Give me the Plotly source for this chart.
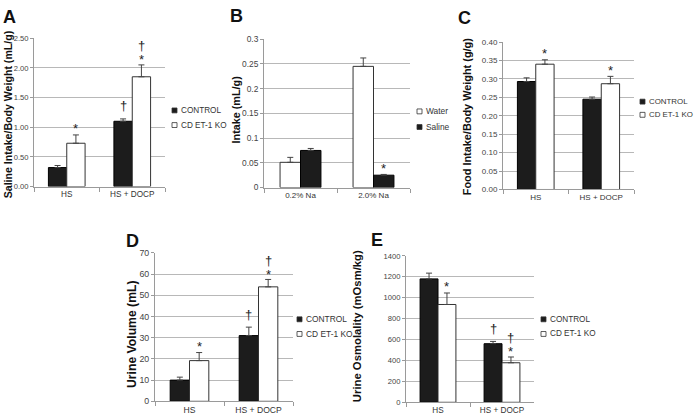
import plotly.graph_objects as go

W, H = 694, 419
FONT = "Liberation Sans, Arial, sans-serif"
BARGAP = 0.44

# ---------------- data ----------------
A_cats = ["HS", "HS + DOCP"]
A_control = [0.32, 1.10]
A_control_err = [0.035, 0.04]
A_ko = [0.73, 1.85]
A_ko_err = [0.14, 0.20]

B_cats = ["0.2% Na", "2.0% Na"]
B_water = [0.051, 0.245]
B_water_err = [0.010, 0.017]
B_saline = [0.075, 0.025]
B_saline_err = [0.004, 0.0015]

C_cats = ["HS", "HS + DOCP"]
C_control = [0.293, 0.245]
C_control_err = [0.010, 0.006]
C_ko = [0.340, 0.287]
C_ko_err = [0.012, 0.020]

D_cats = ["HS", "HS + DOCP"]
D_control = [10.0, 31.0]
D_control_err = [1.4, 4.0]
D_ko = [19.2, 54.0]
D_ko_err = [3.8, 3.5]

E_cats = ["HS", "HS + DOCP"]
E_control = [1180, 560]
E_control_err = [55, 22]
E_ko = [935, 378]
E_ko_err = [110, 55]

# significance marks: (bar index in pair, category, symbols bottom->top)
A_sig = [(1, "HS", ["*"]), (0, "HS + DOCP", ["†"]), (1, "HS + DOCP", ["*", "†"])]
B_sig = [(1, "2.0% Na", ["*"])]
C_sig = [(1, "HS", ["*"]), (1, "HS + DOCP", ["*"])]
D_sig = [(1, "HS", ["*"]), (0, "HS + DOCP", ["†"]), (1, "HS + DOCP", ["*", "†"])]
E_sig = [(1, "HS", ["*"]), (0, "HS + DOCP", ["†"]), (1, "HS + DOCP", ["*", "†"])]

BLACK = dict(color="#1c1c1c", line=dict(color="#000000", width=1))
WHITE = dict(color="#ffffff", line=dict(color="#333333", width=1))

panels = [
    dict(letter="A", cats=A_cats,
         series=[("CONTROL", A_control, A_control_err, BLACK),
                 ("CD ET-1 KO", A_ko, A_ko_err, WHITE)],
         sig=A_sig, box=(34, 165, 34, 186), yrange=(0, 2.5), dtick=0.5, fmt=".2f",
         title="Saline Intake/Body Weight (mL/g)", tsize=10.6, tx=8, ty=112,
         tick=7.6, cat=8.2, leg=(172, 108, 15), legsize=8.2, lpos=(9, 12)),
    dict(letter="B", cats=B_cats,
         series=[("Water", B_water, B_water_err, WHITE),
                 ("Saline", B_saline, B_saline_err, BLACK)],
         sig=B_sig, box=(264, 410, 35, 187), yrange=(0, 0.3), dtick=0.05, fmt="",
         title="Intake (mL/g)", tsize=10.8, tx=236, ty=107,
         tick=8.4, cat=8.0, leg=(417, 109, 16), legsize=8.4, lpos=(236, 11)),
    dict(letter="C", cats=C_cats,
         series=[("CONTROL", C_control, C_control_err, BLACK),
                 ("CD ET-1 KO", C_ko, C_ko_err, WHITE)],
         sig=C_sig, box=(503, 634, 38, 189), yrange=(0, 0.4), dtick=0.05, fmt=".2f",
         title="Food Intake/Body Weight (g/g)", tsize=10.9, tx=467, ty=115,
         tick=8.0, cat=8.0, leg=(640, 99, 13.5), legsize=7.9, lpos=(464, 13)),
    dict(letter="D", cats=D_cats,
         series=[("CONTROL", D_control, D_control_err, BLACK),
                 ("CD ET-1 KO", D_ko, D_ko_err, WHITE)],
         sig=D_sig, box=(155, 293, 254, 406), yrange=(0, 70), dtick=10, fmt="",
         title="Urine Volume (mL)", tsize=12.2, tx=132, ty=338,
         tick=8.8, cat=8.6, leg=(297, 322, 15), legsize=8.4, lpos=(132, 242)),
    dict(letter="E", cats=E_cats,
         series=[("CONTROL", E_control, E_control_err, BLACK),
                 ("CD ET-1 KO", E_ko, E_ko_err, WHITE)],
         sig=E_sig, box=(406, 534, 257, 407), yrange=(0, 1400), dtick=200, fmt="",
         title="Urine Osmolality (mOsm/kg)", tsize=11.3, tx=357, ty=329,
         tick=7.6, cat=8.2, leg=(541, 322, 15), legsize=8.2, lpos=(377, 241)),
]

fig = go.Figure()
annotations = []
shapes = []

for i, p in enumerate(panels):
    n = "" if i == 0 else str(i + 1)
    xa, ya = "x" + n, "y" + n
    x0, x1, yt, yb = p["box"]
    for name, vals, errs, style in p["series"]:
        fig.add_trace(go.Bar(
            x=p["cats"], y=vals, name=name, xaxis=xa, yaxis=ya, showlegend=False,
            marker=style, hoverinfo="skip",
            error_y=dict(type="data", array=errs, arrayminus=[0] * len(errs),
                         symmetric=False, color="#444444", thickness=1, width=3),
        ))
    fig.layout["xaxis" + n] = dict(
        domain=[x0 / W, x1 / W], anchor=ya, type="category",
        showline=True, linecolor="#9a9a9a", linewidth=1,
        ticks="outside", tickson="boundaries", ticklen=4, tickcolor="#9a9a9a",
        showgrid=False, tickfont=dict(family=FONT, size=p["cat"], color="#333333"),
        fixedrange=True,
    )
    fig.layout["yaxis" + n] = dict(
        domain=[1 - yb / H, 1 - yt / H], anchor=xa, range=list(p["yrange"]),
        dtick=p["dtick"], tick0=0, tickformat=p["fmt"],
        showline=True, linecolor="#9a9a9a", linewidth=1,
        ticks="outside", ticklen=3, tickcolor="#9a9a9a",
        showgrid=True, gridcolor="#b8b8b8", gridwidth=1, zeroline=False,
        tickfont=dict(family=FONT, size=p["tick"], color="#444444"),
        fixedrange=True,
    )
    # significance marks
    cat_w = (x1 - x0) / len(p["cats"])
    off = cat_w * (1 - BARGAP) / 4
    for bar_idx, cat, syms in p["sig"]:
        _, vals, errs, _ = p["series"][bar_idx]
        k = p["cats"].index(cat)
        top = vals[k] + errs[k]
        if len(syms) == 1:
            shifts = [6 if syms[0] == "*" else 13]
        else:
            shifts = [5, 19]
        for s, sh in zip(syms, shifts):
            annotations.append(dict(
                x=cat, y=top, xref=xa, yref=ya, text=s, showarrow=False,
                xshift=(-off if bar_idx == 0 else off), yshift=sh,
                yanchor="middle", xanchor="center",
                font=dict(family=FONT, size=13, color="#222222"),
            ))
    # y-axis title
    annotations.append(dict(
        x=p["tx"] / W, y=1 - p["ty"] / H, xref="paper", yref="paper",
        text="<b>%s</b>" % p["title"], textangle=-90, showarrow=False,
        xanchor="center", yanchor="middle",
        font=dict(family=FONT, size=p["tsize"], color="#111111"),
    ))
    # panel letter
    annotations.append(dict(
        x=p["lpos"][0] / W, y=1 - p["lpos"][1] / H, xref="paper", yref="paper",
        text="<b>%s</b>" % p["letter"], showarrow=False,
        xanchor="center", yanchor="middle",
        font=dict(family=FONT, size=18, color="#111111"),
    ))
    # legend (key squares + labels)
    lx, ly, dy = p["leg"]
    for j, (name, _, _, style) in enumerate(p["series"]):
        cy = ly + j * dy
        shapes.append(dict(
            type="rect", xref="paper", yref="paper",
            x0=lx / W, x1=(lx + 5) / W, y0=1 - (cy + 2.5) / H, y1=1 - (cy - 2.5) / H,
            fillcolor=style["color"], line=dict(color="#333333", width=0.8),
        ))
        annotations.append(dict(
            x=(lx + 7) / W, y=1 - cy / H, xref="paper", yref="paper",
            text=name, showarrow=False, xanchor="left", yanchor="middle",
            font=dict(family=FONT, size=p["legsize"], color="#333333"),
        ))

fig.update_layout(
    width=W, height=H, autosize=False,
    margin=dict(l=0, r=0, t=0, b=0),
    paper_bgcolor="white", plot_bgcolor="white",
    barmode="group", bargap=BARGAP, bargroupgap=0,
    showlegend=False, hovermode=False,
    annotations=annotations, shapes=shapes,
    font=dict(family=FONT),
)

fig.write_html("out.html",
               config={"displayModeBar": False, "staticPlot": True},
               post_script="document.body.style.margin='0';document.body.style.overflow='hidden';")
